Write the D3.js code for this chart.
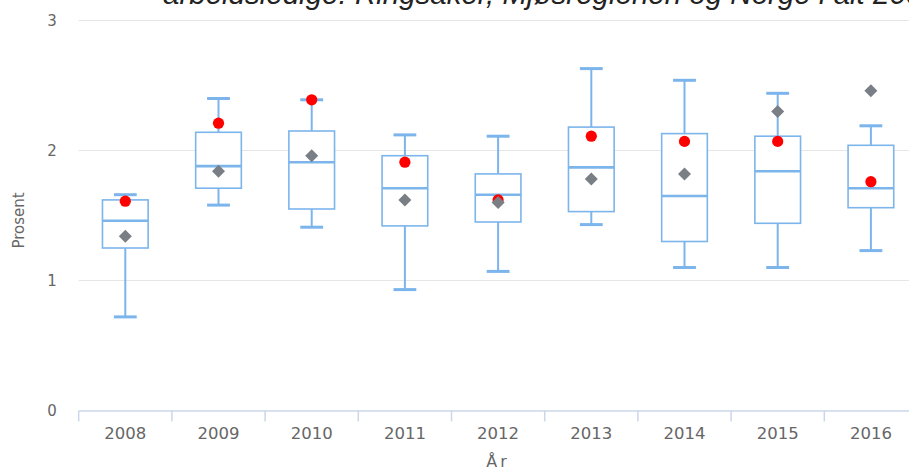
<!DOCTYPE html>
<html>
<head>
<meta charset="utf-8">
<script src="https://cdn.jsdelivr.net/npm/d3@7"></script>
<style>
  html, body { margin: 0; padding: 0; background: #fff; overflow: hidden; }
  svg { display: block; }
</style>
</head>
<body>
<svg id="chart" width="909" height="471"></svg>
<script>
const years = ["2008","2009","2010","2011","2012","2013","2014","2015","2016"];
const whiskerLow  = [0.72, 1.58, 1.41, 0.93, 1.07, 1.43, 1.10, 1.10, 1.23];
const quart1      = [1.25, 1.71, 1.55, 1.42, 1.45, 1.53, 1.30, 1.44, 1.56];
const medians     = [1.46, 1.88, 1.91, 1.71, 1.66, 1.87, 1.65, 1.84, 1.71];
const quart3      = [1.62, 2.14, 2.15, 1.96, 1.82, 2.18, 2.13, 2.11, 2.04];
const whiskerHigh = [1.66, 2.40, 2.39, 2.12, 2.11, 2.63, 2.54, 2.44, 2.19];
const ringsaker   = [1.61, 2.21, 2.39, 1.91, 1.62, 2.11, 2.07, 2.07, 1.76];
const norge       = [1.34, 1.84, 1.96, 1.62, 1.60, 1.78, 1.82, 2.30, 2.46];
const yTicks = [0, 1, 2, 3];
const titleText = "arbeidsledige: Ringsaker, Mjøsregionen og Norge i alt 2008-2016";
const xTitle = "År";
const yTitle = "Prosent";

const svg = d3.select("#chart");
const plotLeft = 78.7, plotRight = 917.5, plotTop = 20.5, plotBottom = 410.5;

const x = d3.scaleBand().domain(years).range([plotLeft, plotRight]).padding(0);
const y = d3.scaleLinear().domain([0, 3]).range([plotBottom, plotTop]);

const boxColor = "#7cb5ec";
const textColor = "#666666";
const font = "'DejaVu Sans', sans-serif";

// title (its upper part falls above the picture, as in the reference)
svg.append("text")
  .attr("x", 163).attr("y", 4)
  .attr("font-family", "'Liberation Sans', Arial, sans-serif")
  .attr("font-style", "italic")
  .attr("font-size", 29.5)
  .attr("fill", "#222222")
  .text(titleText);

// gridlines
svg.append("g").selectAll("line")
  .data(yTicks.filter(d => d > 0))
  .join("line")
  .attr("x1", plotLeft).attr("x2", plotRight)
  .attr("y1", d => y(d)).attr("y2", d => y(d))
  .attr("stroke", "#e6e6e6").attr("stroke-width", 1.2);

// y axis
const yAxis = svg.append("g")
  .attr("transform", `translate(${plotLeft},0)`)
  .call(d3.axisLeft(y).tickValues(yTicks).tickSize(0).tickPadding(22).tickFormat(d3.format("d")));
yAxis.select(".domain").remove();
yAxis.selectAll("text")
  .attr("font-family", font).attr("font-size", 15).attr("fill", textColor);

// x axis
const xAxis = svg.append("g")
  .attr("transform", `translate(0,${plotBottom})`)
  .call(d3.axisBottom(x).tickSize(0).tickPadding(17));
xAxis.select(".domain").attr("stroke", "#ccd6eb").attr("stroke-width", 1.5);
xAxis.selectAll("text")
  .attr("font-family", font).attr("font-size", 16.5).attr("fill", textColor);
// band boundary ticks
svg.append("g").selectAll("line")
  .data(years)
  .join("line")
  .attr("x1", d => x(d)).attr("x2", d => x(d))
  .attr("y1", plotBottom).attr("y2", plotBottom + 11)
  .attr("stroke", "#ccd6eb").attr("stroke-width", 1.5);

// axis titles
svg.append("text")
  .attr("x", (plotLeft + plotRight) / 2).attr("y", 467)
  .attr("text-anchor", "middle")
  .attr("font-family", font).attr("font-size", 16)
  .attr("letter-spacing", 3)
  .attr("fill", textColor)
  .text(xTitle);

svg.append("text")
  .attr("transform", `translate(24,${(plotTop + plotBottom) / 2 + 5}) rotate(-90)`)
  .attr("text-anchor", "middle")
  .attr("font-family", font).attr("font-size", 15)
  .attr("fill", textColor)
  .text(yTitle);

// boxplots
const bw = x.bandwidth();
const boxW = bw * 0.49;
const capW = bw * 0.245;
const g = svg.append("g");
years.forEach((yr, i) => {
  const cx = x(yr) + bw / 2;
  const bg = g.append("g");
  bg.append("line").attr("x1", cx).attr("x2", cx)
    .attr("y1", y(whiskerHigh[i])).attr("y2", y(quart3[i]))
    .attr("stroke", boxColor).attr("stroke-width", 2);
  bg.append("line").attr("x1", cx).attr("x2", cx)
    .attr("y1", y(quart1[i])).attr("y2", y(whiskerLow[i]))
    .attr("stroke", boxColor).attr("stroke-width", 2);
  [whiskerHigh[i], whiskerLow[i]].forEach(v => {
    bg.append("line").attr("x1", cx - capW / 2).attr("x2", cx + capW / 2)
      .attr("y1", y(v)).attr("y2", y(v))
      .attr("stroke", boxColor).attr("stroke-width", 3);
  });
  bg.append("rect")
    .attr("x", cx - boxW / 2).attr("width", boxW)
    .attr("y", y(quart3[i])).attr("height", y(quart1[i]) - y(quart3[i]))
    .attr("fill", "#ffffff").attr("stroke", boxColor).attr("stroke-width", 1.6);
  bg.append("line").attr("x1", cx - boxW / 2).attr("x2", cx + boxW / 2)
    .attr("y1", y(medians[i])).attr("y2", y(medians[i]))
    .attr("stroke", boxColor).attr("stroke-width", 2.6);
});

// red points
svg.append("g").selectAll("circle")
  .data(years)
  .join("circle")
  .attr("cx", d => x(d) + bw / 2)
  .attr("cy", (d, i) => y(ringsaker[i]))
  .attr("r", 5.6)
  .attr("fill", "#ff0000");

// gray diamonds
svg.append("g").selectAll("path")
  .data(years)
  .join("path")
  .attr("transform", (d, i) => `translate(${x(d) + bw / 2},${y(norge[i])})`)
  .attr("d", "M0,-6.5L6.5,0L0,6.5L-6.5,0Z")
  .attr("fill", "#7a7e85");
</script>
</body>
</html>
